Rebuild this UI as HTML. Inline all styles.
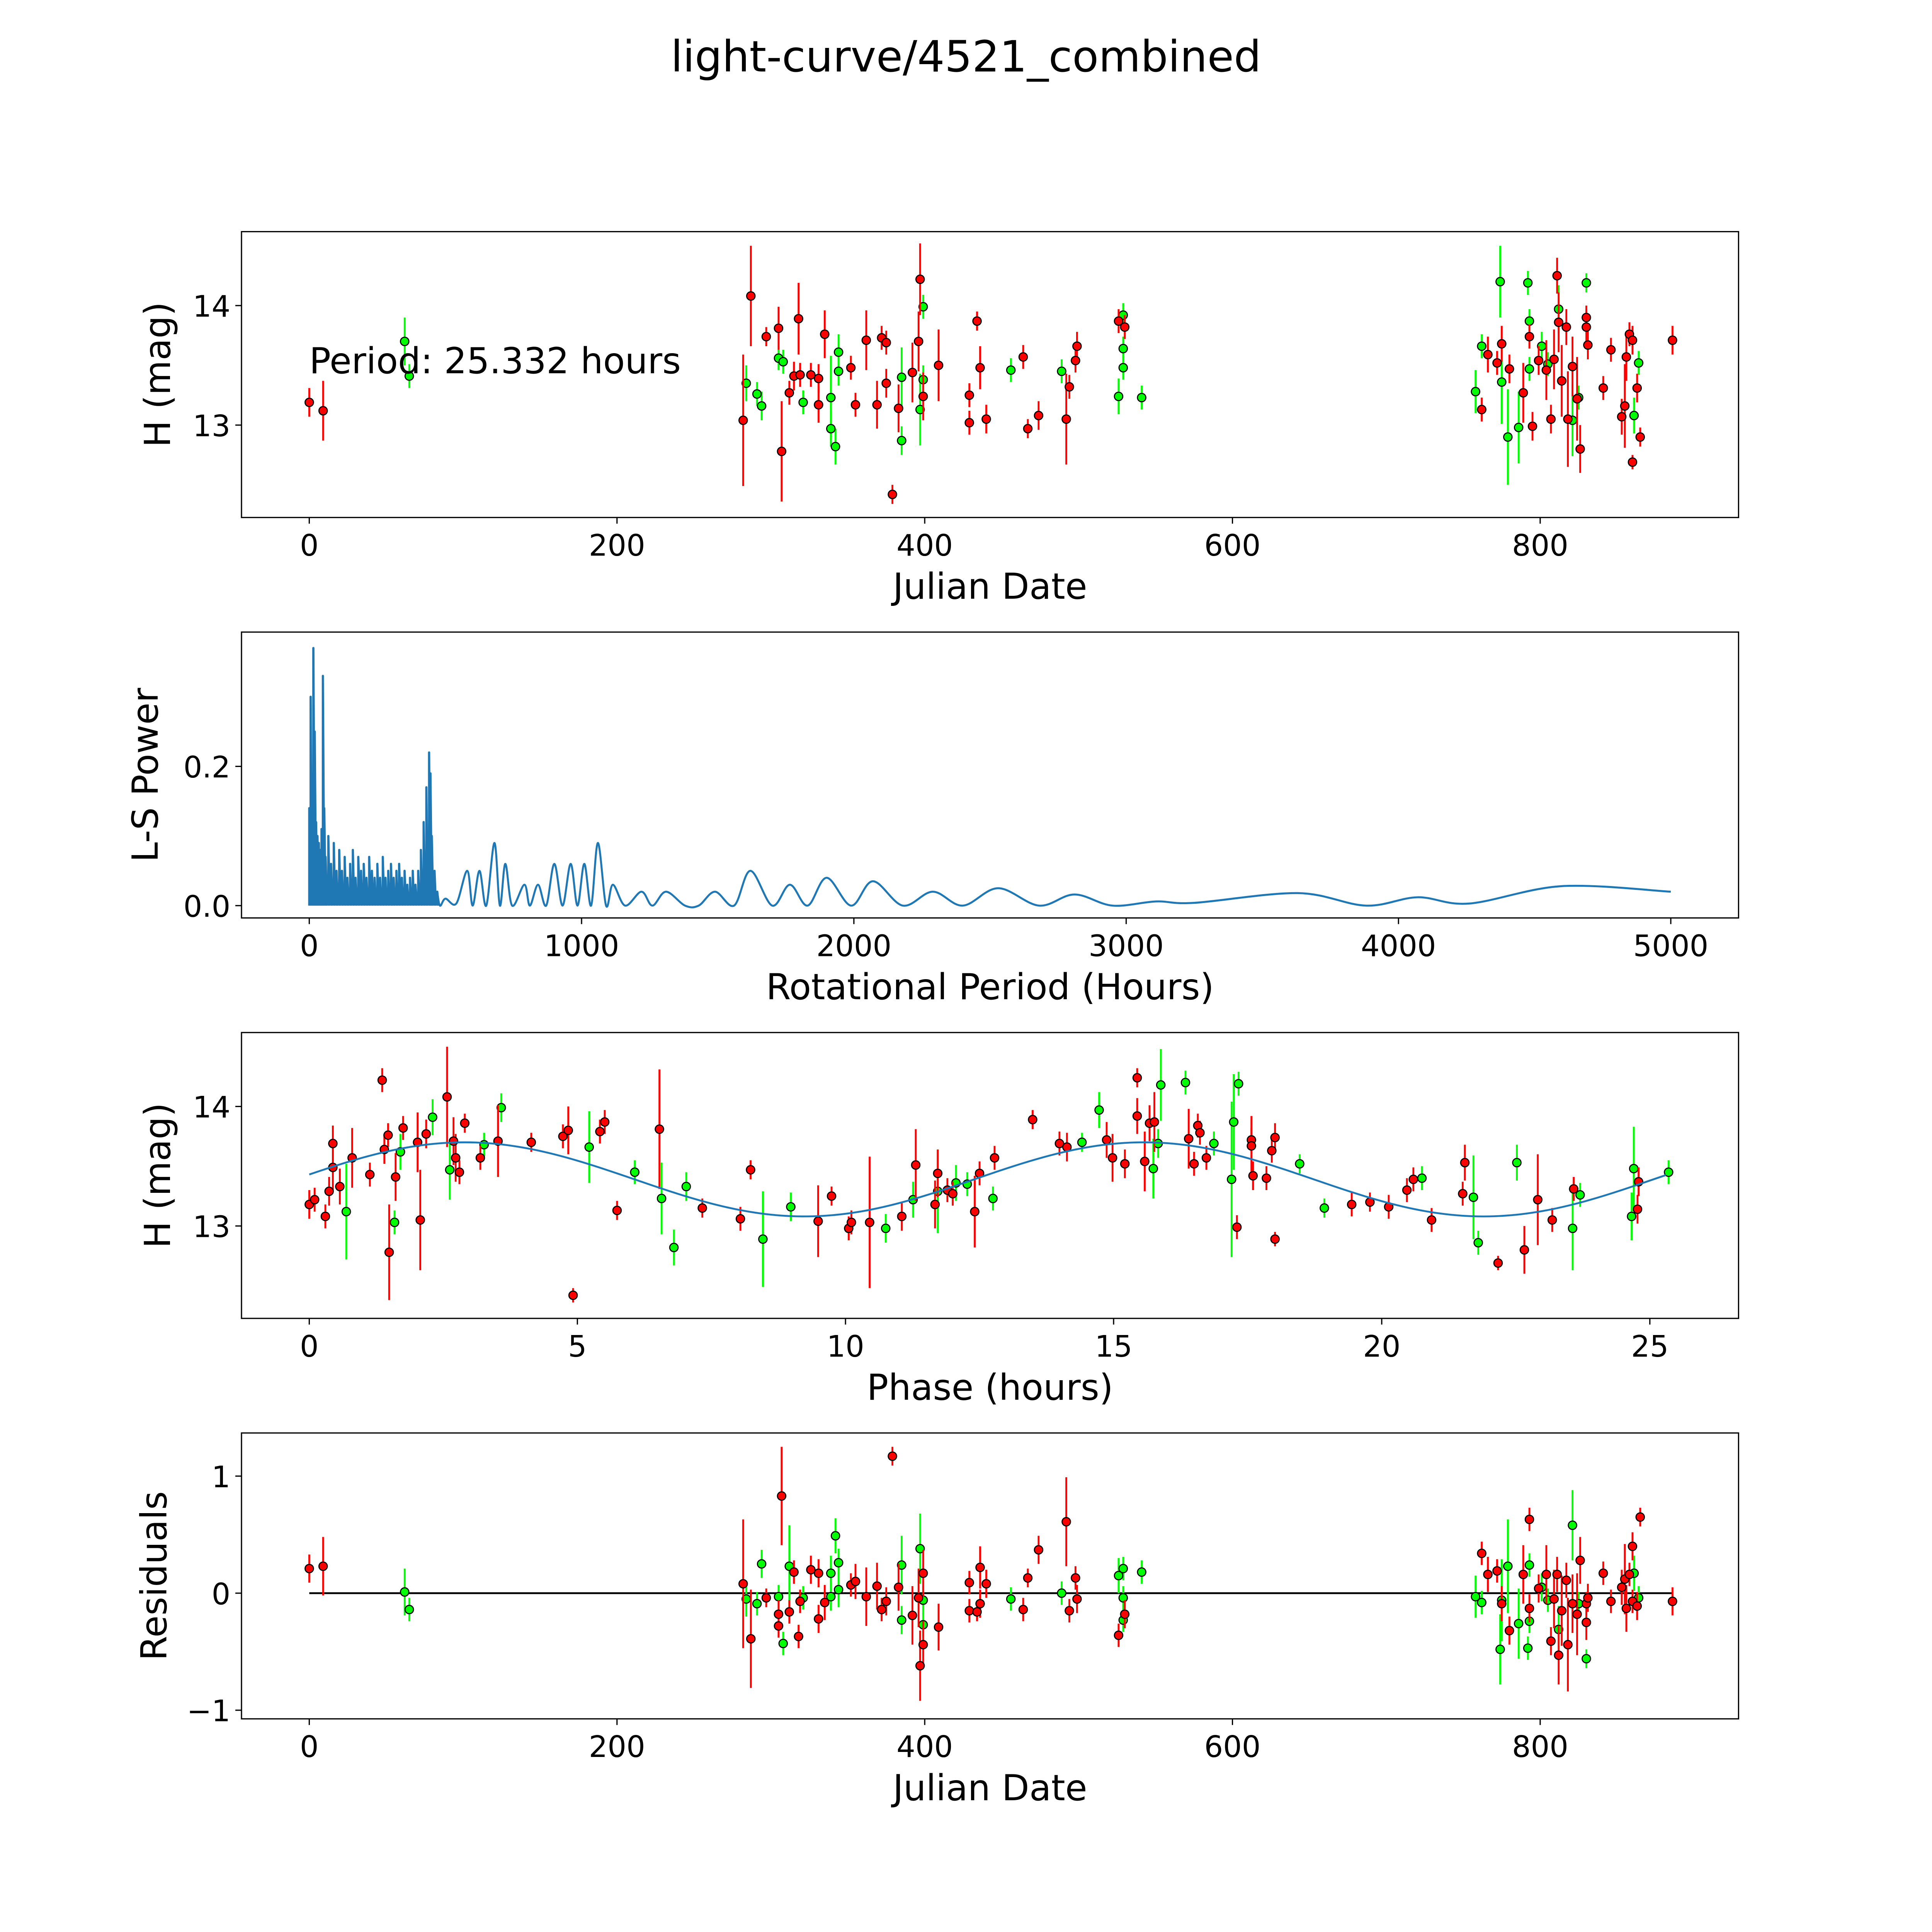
<!DOCTYPE html>
<html><head><meta charset="utf-8"><style>
html,body{margin:0;padding:0;background:#fff;overflow:hidden;}
svg{display:block;width:100vw;height:100vh;font-family:"DejaVu Sans","Liberation Sans",sans-serif;}
</style></head><body>
<svg id="fig" viewBox="0 0 1568 1568" preserveAspectRatio="none" xmlns="http://www.w3.org/2000/svg">
<rect width="1568" height="1568" fill="#fff"/>
<text x="784" y="58" font-size="35" text-anchor="middle">light-curve/4521_combined</text>
</svg>
<script>
// ---------- data ----------
const lcRed = [[0,13.19,0.12],[9,13.12,0.25],[282,13.04,0.55],[287,14.08,0.42],[297,13.74,0.08],[305,13.81,0.18],[307,12.78,0.42],[312,13.27,0.1],[315,13.41,0.12],[318,13.89,0.3],[319,13.42,0.1],[326,13.42,0.1],[331,13.39,0.12],[331,13.17,0.15],[335,13.76,0.2],[352,13.48,0.1],[355,13.17,0.1],[362,13.71,0.25],[369,13.17,0.2],[372,13.73,0.1],[375,13.35,0.12],[375,13.69,0.1],[379,12.42,0.08],[383,13.14,0.2],[392,13.44,0.25],[396,13.70,0.25],[397,14.22,0.3],[399,13.24,0.2],[409,13.50,0.3],[429,13.25,0.1],[429,13.02,0.1],[434,13.87,0.08],[436,13.48,0.18],[440,13.05,0.12],[464,13.57,0.1],[467,12.97,0.08],[474,13.08,0.12],[492,13.05,0.38],[494,13.32,0.1],[498,13.54,0.1],[499,13.66,0.12],[526,13.87,0.1],[530,13.82,0.1],[762,13.13,0.1],[766,13.59,0.15],[772,13.52,0.1],[775,13.68,0.15],[780,13.47,0.12],[789,13.27,0.25],[793,13.74,0.1],[795,12.99,0.12],[799,13.54,0.12],[804,13.46,0.25],[807,13.05,0.12],[809,13.55,0.25],[811,14.25,0.15],[812,13.86,0.25],[814,13.37,0.3],[817,13.82,0.15],[818,13.05,0.4],[821,13.49,0.25],[824,13.22,0.35],[826,12.80,0.2],[830,13.90,0.1],[830,13.82,0.15],[831,13.67,0.12],[841,13.31,0.1],[846,13.63,0.1],[853,13.07,0.15],[855,13.16,0.35],[856,13.57,0.2],[858,13.76,0.1],[860,13.71,0.12],[860,12.69,0.06],[863,13.31,0.12],[865,12.90,0.08],[886,13.71,0.12]];
const lcGreen = [[62,13.70,0.2],[65,13.41,0.1],[284,13.35,0.15],[291,13.26,0.1],[294,13.16,0.12],[305,13.56,0.1],[308,13.53,0.1],[321,13.19,0.1],[339,12.97,0.15],[342,12.82,0.15],[339,13.23,0.35],[344,13.45,0.12],[344,13.61,0.15],[385,12.87,0.12],[385,13.40,0.25],[397,13.13,0.3],[399,13.38,0.12],[399,13.99,0.1],[456,13.46,0.1],[489,13.45,0.1],[526,13.24,0.15],[529,13.92,0.1],[529,13.64,0.1],[529,13.48,0.1],[541,13.23,0.1],[758,13.28,0.18],[762,13.66,0.1],[774,14.20,0.3],[775,13.36,0.35],[779,12.90,0.4],[786,12.98,0.3],[792,14.19,0.1],[793,13.47,0.1],[793,13.87,0.1],[801,13.66,0.12],[805,13.51,0.1],[812,13.97,0.2],[821,13.04,0.3],[825,13.23,0.1],[830,14.19,0.08],[861,13.08,0.15],[864,13.52,0.1]];
const spikePeriods = [0,5,10,15,20,25,30,35,40,45,50,55,60,70,80,90,100,110,120,130,140,150,160,170,180,190,200,210,220,230,240,250,260,270,280,290,300,310,320,330,340,350,360,370,380,390,400,410,420,430,440,445,450,460,470];
const spikePowers = [0.14,0.30,0.15,0.37,0.25,0.12,0.10,0.09,0.08,0.11,0.33,0.14,0.07,0.10,0.06,0.09,0.05,0.08,0.05,0.07,0.04,0.06,0.08,0.04,0.07,0.05,0.06,0.04,0.07,0.05,0.04,0.06,0.04,0.07,0.04,0.05,0.06,0.04,0.05,0.06,0.04,0.05,0.03,0.04,0.05,0.03,0.05,0.08,0.12,0.17,0.22,0.19,0.10,0.05,0.02];
const smoothPeriods = [480,500,540,580,600,625,650,680,700,720,745,790,810,840,870,900,930,960,985,1010,1035,1060,1090,1115,1160,1220,1260,1310,1380,1430,1490,1560,1620,1700,1765,1830,1900,1990,2070,2180,2290,2400,2530,2680,2810,2950,3110,3250,3630,3880,4070,4260,4600,5000];
const smoothPowers = [0,0.01,0.003,0.05,0.0,0.05,0.0,0.09,0.0,0.06,0.0,0.03,0.0,0.03,0.0,0.06,0.0,0.06,0.0,0.06,0.0,0.09,0.0,0.03,0.0,0.02,0.0,0.02,0.0,0.0,0.02,0.0,0.05,0.0,0.03,0.0,0.04,0.0,0.035,0.0,0.02,0.0,0.025,0.0,0.016,0.0,0.006,0.004,0.018,0.0,0.012,0.003,0.028,0.02];
const phRed = [[0,13.18,0.12],[0.1,13.22,0.1],[0.3,13.08,0.1],[0.37,13.29,0.12],[0.44,13.49,0.2],[0.44,13.69,0.15],[0.57,13.33,0.15],[0.8,13.57,0.25],[1.13,13.43,0.1],[1.36,14.22,0.1],[1.4,13.64,0.12],[1.47,13.76,0.1],[1.49,12.78,0.4],[1.61,13.41,0.2],[1.75,13.82,0.1],[2.02,13.70,0.25],[2.07,13.05,0.42],[2.18,13.77,0.12],[2.57,14.08,0.42],[2.69,13.71,0.2],[2.73,13.57,0.2],[2.8,13.45,0.1],[2.9,13.86,0.08],[3.19,13.57,0.1],[3.52,13.71,0.3],[4.14,13.70,0.08],[4.73,13.75,0.1],[4.83,13.80,0.2],[4.92,12.42,0.06],[5.42,13.79,0.1],[5.51,13.87,0.1],[5.74,13.13,0.08],[6.53,13.81,0.5],[7.33,13.15,0.08],[8.04,13.06,0.1],[8.23,13.47,0.08],[9.49,13.04,0.3],[9.74,13.25,0.08],[10.06,12.98,0.1],[10.11,13.03,0.1],[10.45,13.03,0.55],[11.05,13.08,0.12],[11.31,13.51,0.3],[11.67,13.18,0.2],[11.72,13.44,0.2],[11.9,13.30,0.1],[12.0,13.27,0.1],[12.41,13.12,0.3],[12.5,13.44,0.1],[12.78,13.57,0.1],[13.49,13.89,0.08],[13.99,13.69,0.1],[14.13,13.66,0.12],[14.87,13.72,0.15],[14.98,13.57,0.2],[15.21,13.52,0.12],[15.44,14.24,0.08],[15.44,13.92,0.15],[15.58,13.54,0.25],[15.67,13.86,0.15],[15.76,13.87,0.25],[16.4,13.73,0.25],[16.5,13.52,0.1],[16.57,13.84,0.1],[16.61,13.78,0.1],[16.73,13.57,0.1],[17.3,12.99,0.1],[17.57,13.72,0.1],[17.57,13.67,0.25],[17.6,13.42,0.12],[17.85,13.40,0.1],[17.95,13.63,0.1],[18.01,13.74,0.12],[18.01,12.89,0.06],[19.44,13.18,0.1],[19.78,13.20,0.08],[20.13,13.16,0.1],[20.47,13.30,0.1],[20.59,13.39,0.1],[20.93,13.05,0.1],[21.55,13.53,0.15],[21.51,13.27,0.1],[22.17,12.69,0.06],[22.66,12.80,0.2],[22.91,13.22,0.38],[23.18,13.05,0.1],[23.58,13.31,0.1],[24.77,13.14,0.12],[24.79,13.37,0.12]];
const phGreen = [[0.69,13.12,0.4],[1.59,13.03,0.1],[1.7,13.62,0.15],[2.3,13.91,0.15],[2.62,13.47,0.25],[3.26,13.68,0.1],[3.58,13.99,0.12],[5.22,13.66,0.3],[6.07,13.45,0.1],[6.57,13.23,0.3],[6.8,12.82,0.15],[7.03,13.33,0.12],[8.46,12.89,0.4],[8.98,13.16,0.12],[10.75,12.98,0.12],[11.26,13.22,0.15],[11.72,13.29,0.35],[12.75,13.23,0.1],[12.06,13.36,0.15],[12.27,13.35,0.1],[14.41,13.70,0.08],[14.73,13.97,0.15],[15.74,13.48,0.25],[15.83,13.69,0.12],[15.88,14.18,0.3],[16.34,14.20,0.1],[16.87,13.69,0.1],[17.2,13.39,0.65],[17.24,13.87,0.4],[17.33,14.19,0.1],[18.47,13.52,0.08],[18.93,13.15,0.08],[20.75,13.40,0.1],[21.71,13.24,0.35],[21.8,12.86,0.1],[22.52,13.53,0.15],[23.56,12.98,0.35],[23.7,13.26,0.1],[24.66,13.08,0.2],[24.7,13.48,0.35],[25.35,13.45,0.1]];
const fitMean = 13.39, fitAmp = 0.31, fitPeak = 2.9, fitPeriod = 12.666;
const resRed = [[0,0.21,0.12],[9,0.23,0.25],[282,0.08,0.55],[287,-0.39,0.42],[297,-0.04,0.08],[305,-0.18,0.12],[307,0.83,0.42],[305,-0.28,0.1],[312,-0.16,0.1],[315,0.18,0.1],[318,-0.37,0.1],[319,-0.07,0.1],[326,0.2,0.12],[331,-0.22,0.12],[331,0.17,0.12],[335,-0.08,0.15],[352,0.07,0.1],[355,0.10,0.15],[362,-0.03,0.25],[369,0.06,0.2],[372,-0.14,0.1],[375,-0.07,0.12],[379,1.17,0.08],[383,0.05,0.2],[392,-0.19,0.25],[396,-0.04,0.25],[397,-0.62,0.3],[399,0.17,0.2],[399,-0.44,0.2],[409,-0.29,0.2],[429,-0.15,0.1],[429,0.09,0.1],[434,-0.16,0.08],[436,0.22,0.18],[436,-0.09,0.12],[440,0.08,0.12],[464,-0.14,0.1],[467,0.13,0.08],[474,0.37,0.12],[492,0.61,0.38],[494,-0.15,0.1],[498,0.13,0.1],[499,-0.05,0.12],[526,-0.36,0.1],[530,-0.18,0.12],[762,0.34,0.1],[766,0.16,0.15],[772,0.19,0.1],[775,-0.09,0.15],[780,-0.32,0.12],[789,0.16,0.25],[793,0.63,0.1],[793,-0.13,0.12],[799,0.04,0.12],[804,0.16,0.25],[807,-0.41,0.12],[809,-0.05,0.25],[811,0.16,0.15],[812,-0.53,0.25],[814,-0.15,0.3],[817,0.11,0.15],[818,-0.44,0.4],[821,-0.09,0.25],[824,-0.18,0.35],[826,0.28,0.2],[830,-0.09,0.1],[830,-0.25,0.15],[831,-0.04,0.12],[841,0.17,0.1],[846,-0.07,0.1],[853,0.05,0.15],[855,0.12,0.3],[856,-0.13,0.2],[858,0.16,0.1],[860,0.40,0.12],[860,-0.07,0.1],[863,-0.11,0.12],[865,0.65,0.08],[886,-0.07,0.12]];
const resGreen = [[62,0.01,0.2],[65,-0.14,0.1],[284,-0.05,0.15],[291,-0.09,0.1],[294,0.25,0.12],[305,-0.03,0.1],[308,-0.43,0.1],[312,0.23,0.35],[321,-0.04,0.1],[339,0.17,0.15],[342,0.49,0.15],[339,-0.03,0.12],[344,0.26,0.12],[344,0.03,0.15],[385,0.24,0.25],[385,-0.23,0.12],[397,0.38,0.3],[399,-0.06,0.12],[399,-0.27,0.1],[456,-0.05,0.1],[489,0.0,0.1],[526,0.15,0.15],[529,0.21,0.1],[529,-0.23,0.1],[529,-0.04,0.1],[541,0.18,0.1],[758,-0.03,0.18],[762,-0.08,0.1],[774,-0.48,0.3],[775,-0.06,0.35],[779,0.23,0.4],[786,-0.26,0.3],[792,-0.47,0.1],[793,0.24,0.1],[793,-0.24,0.1],[801,0.05,0.12],[805,-0.06,0.1],[812,-0.31,0.2],[821,0.58,0.3],[825,-0.09,0.1],[830,-0.56,0.08],[861,0.17,0.15],[864,-0.04,0.1]];
const dateTicks = [0,200,400,600,800];
const periodTicks = [0,1000,2000,3000,4000,5000];
const phaseTicks = [0,5,10,15,20,25];
const magTicks = [13,14];
const powerTicks = [0.0,0.2];
const resTicks = [-1,0,1];

// ---------- drawing ----------
const NS = "http://www.w3.org/2000/svg";
const svg = document.getElementById('fig');
function mk(tag, parent){ const e = document.createElementNS(NS, tag); parent.appendChild(e); return e; }
function lin(d0,d1,r0,r1){ return v => r0 + (v-d0)/(d1-d0)*(r1-r0); }

const L = 196, R = 1411;
const TICK_FS = 24, LABEL_FS = 29;
const panels = [
  {key:'light-curve', top:188, bot:420, x:lin(0,800,251,1250), y:lin(13,14,345,248), xt:dateTicks, yt:magTicks, xl:'Julian Date', yl:'H (mag)', ylx:128, fmtY:v=>String(v)},
  {key:'periodogram', top:513, bot:745, x:lin(0,5000,251,1356), y:lin(0,0.2,735,622), xt:periodTicks, yt:powerTicks, xl:'Rotational Period (Hours)', yl:'L-S Power', ylx:118, fmtY:v=>v.toFixed(1)},
  {key:'phased', top:838, bot:1070, x:lin(0,25,251,1339), y:lin(13,14,995,898), xt:phaseTicks, yt:magTicks, xl:'Phase (hours)', yl:'H (mag)', ylx:128, fmtY:v=>String(v)},
  {key:'residuals', top:1163, bot:1395, x:lin(0,800,251,1250), y:lin(0,1,1293,1198), xt:dateTicks, yt:resTicks, xl:'Julian Date', yl:'Residuals', ylx:125, fmtY:v=>v<0?'\u2212'+Math.abs(v):String(v)}
];

function drawAxes(p, g){
  const f = mk('rect', g);
  
  
  f.setAttribute('x', L); f.setAttribute('y', p.top); f.setAttribute('width', R-L); f.setAttribute('height', p.bot-p.top);
  f.setAttribute('fill', 'none'); f.setAttribute('stroke', '#000'); f.setAttribute('stroke-width', '1');
  p.xt.forEach(t => {
    const X = p.x(t);
    const tk = mk('line', g);
    
    
    tk.setAttribute('x1', X); tk.setAttribute('x2', X); tk.setAttribute('y1', p.bot); tk.setAttribute('y2', p.bot+5);
    tk.setAttribute('stroke', '#000'); tk.setAttribute('stroke-width', '1');
    const tl = mk('text', g);
    
    
    tl.setAttribute('x', X); tl.setAttribute('y', p.bot+31); tl.setAttribute('font-size', TICK_FS); tl.setAttribute('text-anchor', 'middle');
    tl.textContent = String(t);
  });
  p.yt.forEach(t => {
    const Y = p.y(t);
    const tk = mk('line', g);
    
    
    tk.setAttribute('x1', L-5); tk.setAttribute('x2', L); tk.setAttribute('y1', Y); tk.setAttribute('y2', Y);
    tk.setAttribute('stroke', '#000'); tk.setAttribute('stroke-width', '1');
    const tl = mk('text', g);
    
    
    tl.setAttribute('x', L-9); tl.setAttribute('y', Y+9); tl.setAttribute('font-size', TICK_FS); tl.setAttribute('text-anchor', 'end');
    tl.textContent = p.fmtY(t);
  });
  const xl = mk('text', g);
  
  
  xl.setAttribute('x', (L+R)/2); xl.setAttribute('y', p.bot+66); xl.setAttribute('font-size', LABEL_FS); xl.setAttribute('text-anchor', 'middle');
  xl.textContent = p.xl;
  const yl = mk('text', g);
  
  
  const cy = (p.top+p.bot)/2;
  yl.setAttribute('x', p.ylx); yl.setAttribute('y', cy); yl.setAttribute('font-size', LABEL_FS); yl.setAttribute('text-anchor', 'middle');
  yl.setAttribute('transform', 'rotate(-90 '+(p.ylx)+' '+cy+')');
  yl.setAttribute('dy', '10');
  yl.textContent = p.yl;
}

function drawPoints(p, g, pts, col, name){
  pts.forEach(d => {
    const X = p.x(d[0]), Y = p.y(d[1]);
    const eb = mk('line', g);
    
    
    eb.setAttribute('x1', X); eb.setAttribute('x2', X);
    eb.setAttribute('y1', p.y(d[1]-d[2])); eb.setAttribute('y2', p.y(d[1]+d[2]));
    eb.setAttribute('stroke', col); eb.setAttribute('stroke-width', '1.5');
  });
  pts.forEach(d => {
    const c = mk('circle', g);
    
    
    c.setAttribute('cx', p.x(d[0])); c.setAttribute('cy', p.y(d[1])); c.setAttribute('r', '3.4');
    c.setAttribute('fill', col); c.setAttribute('stroke', '#000'); c.setAttribute('stroke-width', '0.9');
  });
}

function catmull(pts){
  let d = 'M'+pts[0][0]+','+pts[0][1];
  for(let i=0;i<pts.length-1;i++){
    const p0=pts[Math.max(0,i-1)], p1=pts[i], p2=pts[i+1], p3=pts[Math.min(pts.length-1,i+2)];
    const c1x=p1[0]+(p2[0]-p0[0])/6, c1y=p1[1]+(p2[1]-p0[1])/6;
    const c2x=p2[0]-(p3[0]-p1[0])/6, c2y=p2[1]-(p3[1]-p1[1])/6;
    d += ' C'+c1x+','+c1y+' '+c2x+','+c2y+' '+p2[0]+','+p2[1];
  }
  return d;
}

panels.forEach(p => {
  const g = mk('g', svg);
  
  
  drawAxes(p, g);
});

(function(){
  const p = panels[0]; const g = mk('g', svg);
  
  
  drawPoints(p, g, lcGreen, '#00ff00', 'light-curve-green');
  drawPoints(p, g, lcRed, '#ff0000', 'light-curve-red');
  const t = mk('text', g);
  
  
  t.setAttribute('x', 251); t.setAttribute('y', 303); t.setAttribute('font-size', '29');
  t.textContent = 'Period: 25.332 hours';
})();

(function(){
  const p = panels[1]; const g = mk('g', svg);
  
  
  let d = '';
  spikePeriods.forEach((per,i) => {
    const X = p.x(per);
    d += 'M'+X+','+p.y(0)+' L'+X+','+p.y(spikePowers[i])+' L'+(X+1.1)+','+p.y(0)+' ';
  });
  const sp = mk('path', g);
  
  
  sp.setAttribute('d', d); sp.setAttribute('fill', '#1f77b4'); sp.setAttribute('stroke', '#1f77b4'); sp.setAttribute('stroke-width', '1.8'); sp.setAttribute('stroke-linejoin','round');
  const pts = [[p.x(spikePeriods[spikePeriods.length-1]), p.y(spikePowers[spikePowers.length-1])]];
  smoothPeriods.forEach((per,i) => pts.push([p.x(per), p.y(smoothPowers[i])]));
  const ln = mk('path', g);
  
  
  ln.setAttribute('d', catmull(pts)); ln.setAttribute('fill', 'none'); ln.setAttribute('stroke', '#1f77b4'); ln.setAttribute('stroke-width', '1.6');
})();

(function(){
  const p = panels[2]; const g = mk('g', svg);
  
  
  drawPoints(p, g, phGreen, '#00ff00', 'phased-green');
  drawPoints(p, g, phRed, '#ff0000', 'phased-red');
  let d = '';
  for(let t=0;t<=25.33;t+=0.1){
    const m = fitMean + fitAmp*Math.cos(2*Math.PI*(t-fitPeak)/fitPeriod);
    d += (d?' L':'M')+p.x(t)+','+p.y(m);
  }
  const f = mk('path', g);
  
  
  f.setAttribute('d', d); f.setAttribute('fill', 'none'); f.setAttribute('stroke', '#1f77b4'); f.setAttribute('stroke-width', '1.5');
})();

(function(){
  const p = panels[3]; const g = mk('g', svg);
  
  
  const z = mk('line', g);
  
  
  z.setAttribute('x1', p.x(0)); z.setAttribute('x2', p.x(886)); z.setAttribute('y1', p.y(0)); z.setAttribute('y2', p.y(0));
  z.setAttribute('stroke', '#000'); z.setAttribute('stroke-width', '1.5');
  drawPoints(p, g, resGreen, '#00ff00', 'residuals-green');
  drawPoints(p, g, resRed, '#ff0000', 'residuals-red');
})();
</script>
</body></html>
